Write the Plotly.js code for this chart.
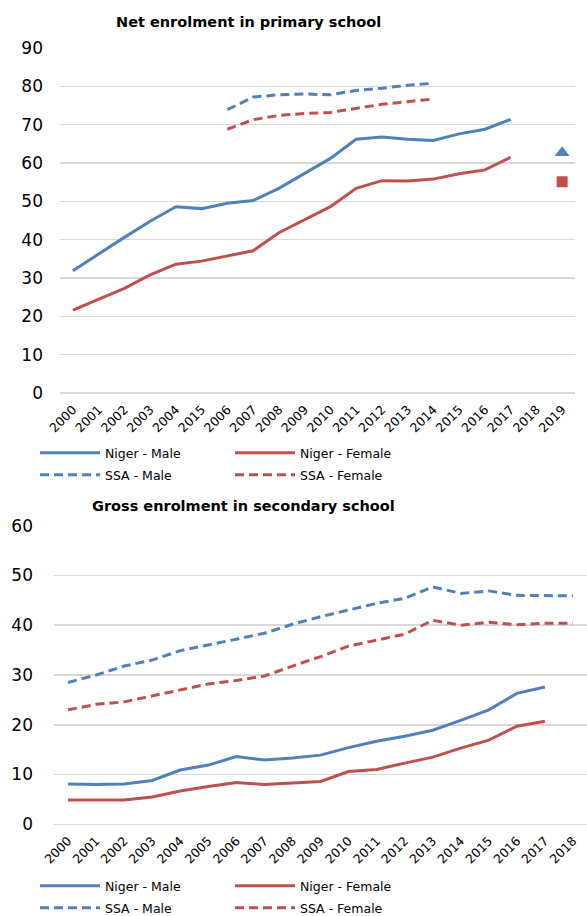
<!DOCTYPE html>
<html>
<head>
<meta charset="utf-8">
<script src="https://cdn.plot.ly/plotly-3.0.1.min.js"></script>
<style>
  html, body { margin: 0; padding: 0; background: #ffffff; }
  #chart { width: 587px; height: 916px; }
</style>
</head>
<body>
<div id="chart"></div>
<script>
// Year labels for the primary-school panel (as printed on the axis)
const primaryYears = ['2000','2001','2002','2003','2004','2015','2006','2007','2008','2009',
                      '2010','2011','2012','2013','2014','2015','2016','2017','2018','2019'];
// Net enrolment in primary school (%)
const primNigerMale   = [31.9,36.3,40.6,44.8,48.6,48.1,49.5,50.2,53.4,57.3,61.2,66.2,66.8,66.2,65.9,67.6,68.8,71.4,null,null];
const primNigerFemale = [21.6,24.5,27.3,30.8,33.6,34.4,35.8,37.1,41.8,45.1,48.6,53.4,55.4,55.3,55.8,57.2,58.2,61.5,null,null];
const primSsaMale     = [null,null,null,null,null,null,73.9,77.2,77.8,78.0,77.8,78.9,79.5,80.3,80.8,null,null,null,null,null];
const primSsaFemale   = [null,null,null,null,null,null,68.8,71.3,72.4,72.9,73.2,74.3,75.3,76.0,76.7,null,null,null,null,null];
// 2019 single-year points
const prim2019Male   = [62.7];
const prim2019Female = [55.1];

// Year labels for the secondary-school panel
const secondaryYears = ['2000','2001','2002','2003','2004','2005','2006','2007','2008','2009',
                        '2010','2011','2012','2013','2014','2015','2016','2017','2018'];
// Gross enrolment in secondary school (%)
const secNigerMale   = [8.1,8.0,8.1,8.8,10.9,11.9,13.6,12.9,13.3,13.9,15.4,16.7,17.7,18.9,20.9,23.0,26.3,27.6,null];
const secNigerFemale = [4.9,4.9,4.9,5.5,6.7,7.6,8.4,8.0,8.3,8.6,10.6,11.0,12.3,13.5,15.3,16.9,19.7,20.7,null];
const secSsaMale     = [28.5,30.0,31.8,33.0,34.9,36.0,37.2,38.4,40.2,41.7,43.1,44.4,45.4,47.7,46.4,46.9,46.0,45.9,45.9];
const secSsaFemale   = [23.0,24.1,24.6,25.8,27.1,28.2,28.9,29.8,31.8,33.7,35.8,37.0,38.2,41.0,40.0,40.6,40.1,40.4,40.4];

const seriesNames = ['Niger - Male', 'Niger - Female', 'SSA - Male', 'SSA - Female'];

const BLUE = '#4f81bd';
const RED = '#c0504d';
const FONT = 'DejaVu Sans, sans-serif';
const DASH = '9px,5px';

const primIdx = primaryYears.map((_, i) => i);
const secIdx = secondaryYears.map((_, i) => i);

function lineTrace(x, y, name, color, dash, xa, ya, legend) {
  return {
    type: 'scatter', mode: 'lines', x: x, y: y, name: name,
    line: { color: color, width: 3, dash: dash },
    xaxis: xa, yaxis: ya, legend: legend, showlegend: true,
    connectgaps: false, hoverinfo: 'skip'
  };
}

// Each legend holds one row of two entries (Niger row, SSA row) per panel
const traces = [
  lineTrace(primIdx, primNigerMale,   seriesNames[0], BLUE, 'solid', 'x', 'y', 'legend'),
  lineTrace(primIdx, primNigerFemale, seriesNames[1], RED,  'solid', 'x', 'y', 'legend'),
  lineTrace(primIdx, primSsaMale,     seriesNames[2], BLUE, DASH,    'x', 'y', 'legend2'),
  lineTrace(primIdx, primSsaFemale,   seriesNames[3], RED,  DASH,    'x', 'y', 'legend2'),
  {
    type: 'scatter', mode: 'markers', x: [primaryYears.length - 1], y: prim2019Male,
    marker: { symbol: 'triangle-up', size: 13, color: BLUE },
    xaxis: 'x', yaxis: 'y', showlegend: false, hoverinfo: 'skip'
  },
  {
    type: 'scatter', mode: 'markers', x: [primaryYears.length - 1], y: prim2019Female,
    marker: { symbol: 'square', size: 11, color: RED },
    xaxis: 'x', yaxis: 'y', showlegend: false, hoverinfo: 'skip'
  },
  lineTrace(secIdx, secNigerMale,   seriesNames[0], BLUE, 'solid', 'x2', 'y2', 'legend3'),
  lineTrace(secIdx, secNigerFemale, seriesNames[1], RED,  'solid', 'x2', 'y2', 'legend3'),
  lineTrace(secIdx, secSsaMale,     seriesNames[2], BLUE, DASH,    'x2', 'y2', 'legend4'),
  lineTrace(secIdx, secSsaFemale,   seriesNames[3], RED,  DASH,    'x2', 'y2', 'legend4')
];

const W = 587, H = 916;
const px = v => v / W;
const py = v => 1 - v / H;

const gridStyle = {
  showgrid: true, gridcolor: '#d9d9d9', gridwidth: 1.5,
  zeroline: true, zerolinecolor: '#d9d9d9', zerolinewidth: 1.5,
  showline: false, ticks: ''
};

const legendStyle = {
  orientation: 'h', xanchor: 'left', yanchor: 'middle',
  entrywidth: 120, entrywidthmode: 'pixels', itemwidth: 60,
  tracegroupgap: 0, bgcolor: 'rgba(0,0,0,0)',
  font: { family: FONT, size: 12.5, color: '#000000' }
};

// Legend placed with its row centred on the given pixel height
const legendAt = mid => Object.assign({}, legendStyle, { x: px(35), y: py(mid) });

const layout = {
  width: W, height: H,
  margin: { l: 0, r: 0, t: 0, b: 0, autoexpand: false },
  paper_bgcolor: '#ffffff', plot_bgcolor: '#ffffff',
  font: { family: FONT, color: '#000000' },
  xaxis: Object.assign({}, gridStyle, {
    domain: [px(60), px(575)], range: [-0.5, primaryYears.length - 0.5],
    showgrid: false, zeroline: false,
    tickvals: primIdx, ticktext: primaryYears, tickangle: -45,
    tickfont: { family: FONT, size: 12.5 }, ticklabelstandoff: 6,
    anchor: 'y', fixedrange: true
  }),
  yaxis: Object.assign({}, gridStyle, {
    domain: [py(393), py(48)], range: [0, 90], dtick: 10, tick0: 0,
    tickfont: { family: FONT, size: 17 }, ticklabelstandoff: 16,
    anchor: 'x', fixedrange: true
  }),
  xaxis2: Object.assign({}, gridStyle, {
    domain: [px(54), 1], range: [-0.5, secondaryYears.length - 0.5],
    showgrid: false, zeroline: false,
    tickvals: secIdx, ticktext: secondaryYears, tickangle: -45,
    tickfont: { family: FONT, size: 12.5 }, ticklabelstandoff: 6,
    anchor: 'y2', fixedrange: true
  }),
  yaxis2: Object.assign({}, gridStyle, {
    domain: [py(824.3), py(525.7)], range: [0, 60], dtick: 10, tick0: 0,
    tickfont: { family: FONT, size: 17 }, ticklabelstandoff: 20,
    anchor: 'x2', fixedrange: true
  }),
  legend: legendAt(453),
  legend2: legendAt(475),
  legend3: legendAt(886),
  legend4: legendAt(908),
  annotations: [
    {
      text: '<b>Net enrolment in primary school</b>', xref: 'paper', yref: 'paper',
      x: px(248), y: py(22), xanchor: 'center', yanchor: 'middle', showarrow: false,
      font: { family: FONT, size: 14.5, color: '#000000' }
    },
    {
      text: '<b>Gross enrolment in secondary school</b>', xref: 'paper', yref: 'paper',
      x: px(243), y: py(506), xanchor: 'center', yanchor: 'middle', showarrow: false,
      font: { family: FONT, size: 14.5, color: '#000000' }
    }
  ]
};

Plotly.newPlot('chart', traces, layout, { displayModeBar: false, staticPlot: true });
</script>
</body>
</html>
